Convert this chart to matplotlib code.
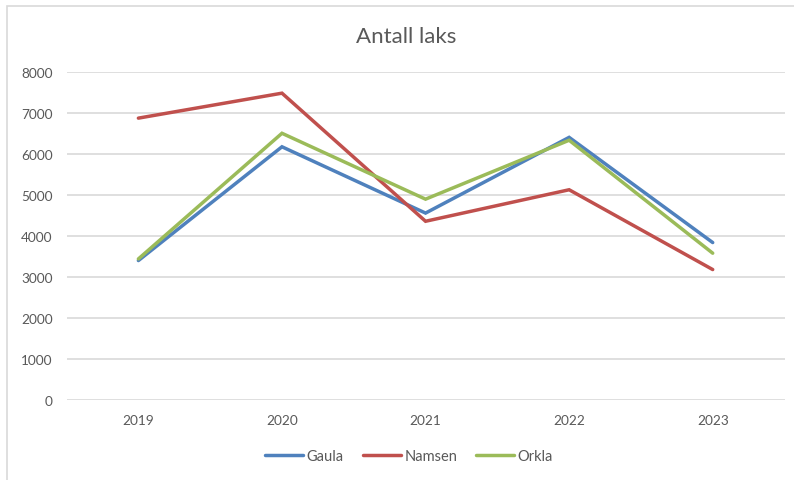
import matplotlib
matplotlib.use("Agg")
import matplotlib.pyplot as plt
from matplotlib.patches import Rectangle

years = ["2019", "2020", "2021", "2022", "2023"]
gaula = [3400, 6180, 4560, 6410, 3840]
namsen = [6880, 7490, 4360, 5130, 3180]
orkla = [3440, 6510, 4900, 6340, 3580]
yticks = [0, 1000, 2000, 3000, 4000, 5000, 6000, 7000, 8000]

plt.rcParams['font.family'] = ['Lato', 'DejaVu Sans']

fig = plt.figure(figsize=(7.94, 4.81), dpi=100)
ax = fig.add_axes([66.6/794, 80.3/481, (784.5-66.6)/794, (400.7-73.3)/481])

x = list(range(len(years)))
kw = dict(lw=2.5, solid_capstyle='round', solid_joinstyle='miter', zorder=3)
ax.plot(x, gaula, color='#4F81BD', label='Gaula', **kw)
ax.plot(x, namsen, color='#C0504D', label='Namsen', **kw)
ax.plot(x, orkla, color='#9BBB59', label='Orkla', **kw)

ax.set_xlim(-0.5, len(years) - 0.5)
ax.set_ylim(0, 8000)
ax.set_xticks(x)
ax.set_xticklabels(years)
ax.set_yticks(yticks)
ax.set_yticklabels([str(v) for v in yticks])
ax.grid(axis='y', color='#D9D9D9', lw=1.2, zorder=0)
ax.tick_params(axis='both', length=0, labelsize=9.8, colors='#595959')
ax.tick_params(axis='y', pad=10)
ax.tick_params(axis='x', pad=10)
for s in ax.spines.values():
    s.set_visible(False)

fig.text(406/794, 1 - 37/481, 'Antall laks', ha='center', va='center', fontsize=16, color='#595959')

leg = fig.legend(loc='center', bbox_to_anchor=(409/794, 1 - 457/481), ncol=3, frameon=False,
                 fontsize=10.5, handlelength=2.6, handletextpad=0.25, columnspacing=1.3)
for t in leg.get_texts():
    t.set_color('#595959')

fig.patches.append(Rectangle((6.5/794, -0.1), 2, 1 - 6.5/481 + 0.1, transform=fig.transFigure,
                             fill=False, edgecolor='#D9D9D9', lw=1.2))

fig.savefig('out.png', dpi=100)
